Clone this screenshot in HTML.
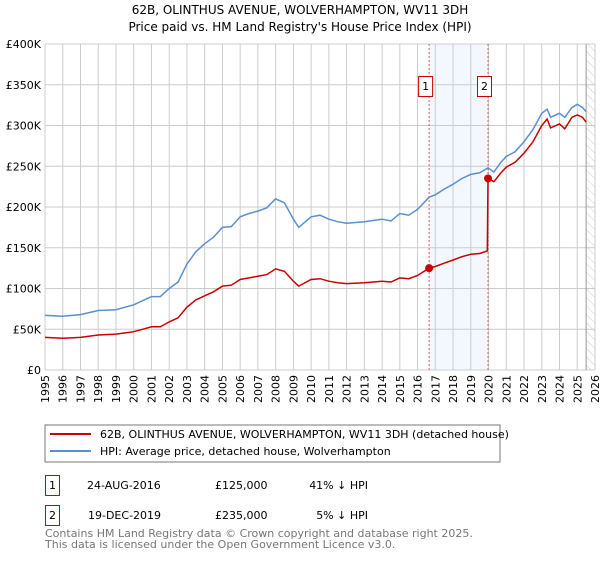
<!DOCTYPE html>
<html><head><meta charset="utf-8"><style>
body{margin:0;background:#fff;font-family:"DejaVu Sans","Liberation Sans",sans-serif;}
svg text{font-family:"DejaVu Sans","Liberation Sans",sans-serif;}
</style></head><body>
<svg id="c" width="600" height="560" xmlns="http://www.w3.org/2000/svg">
<defs><pattern id="hatch" width="6" height="6" patternUnits="userSpaceOnUse" patternTransform="rotate(-45)"><line x1="0" y1="0" x2="0" y2="6" stroke="#ccc" stroke-width="1"/></pattern></defs>
<text x="300" y="14" text-anchor="middle" font-size="12">62B, OLINTHUS AVENUE, WOLVERHAMPTON, WV11 3DH</text>
<text x="300" y="31" text-anchor="middle" font-size="12">Price paid vs. HM Land Registry's House Price Index (HPI)</text>
<g id="grid"></g><g id="marks"></g>
<g>
<rect x="45" y="425" width="455" height="37" fill="#fff" stroke="#777"/>
<line x1="50" y1="434" x2="91" y2="434" stroke="#cc0000" stroke-width="2"/>
<text x="100" y="438" font-size="11">62B, OLINTHUS AVENUE, WOLVERHAMPTON, WV11 3DH (detached house)</text>
<line x1="50" y1="451" x2="91" y2="451" stroke="#5b8fd0" stroke-width="2"/>
<text x="100" y="455" font-size="11">HPI: Average price, detached house, Wolverhampton</text>
</g>
<g font-size="11">
<rect x="45.5" y="475.5" width="14" height="20" fill="#fff" stroke="#cc0000"/>
<text x="52.5" y="489" text-anchor="middle">1</text>
<text x="87" y="489">24-AUG-2016</text>
<text x="215" y="489">£125,000</text>
<text x="368" y="489" text-anchor="end">41% ↓ HPI</text>
<rect x="45.5" y="505.5" width="14" height="20" fill="#fff" stroke="#cc0000"/>
<text x="52.5" y="519" text-anchor="middle">2</text>
<text x="88" y="519">19-DEC-2019</text>
<text x="215" y="519">£235,000</text>
<text x="368" y="519" text-anchor="end">5% ↓ HPI</text>
</g>
<text x="45" y="537" font-size="11" fill="#777">Contains HM Land Registry data © Crown copyright and database right 2025.</text>
<text x="45" y="548" font-size="11" fill="#777">This data is licensed under the Open Government Licence v3.0.</text>
</svg>
<script>
const years=[1995,1996,1997,1998,1999,2000,2001,2002,2003,2004,2005,2006,2007,2008,2009,2010,2011,2012,2013,2014,2015,2016,2017,2018,2019,2020,2021,2022,2023,2024,2025,2026];
const yTicks=[0,50000,100000,150000,200000,250000,300000,350000,400000];
const yTickLabels=["£0","£50K","£100K","£150K","£200K","£250K","£300K","£350K","£400K"];
const hpiT=[1995,1996,1997,1998,1999,2000,2000.5,2001,2001.5,2002,2002.5,2003,2003.5,2004,2004.5,2005,2005.5,2006,2006.5,2007,2007.5,2008,2008.5,2009,2009.3,2010,2010.5,2011,2011.5,2012,2013,2014,2014.5,2015,2015.5,2016,2016.65,2017,2017.5,2018,2018.5,2019,2019.5,2019.97,2020.3,2020.7,2021,2021.5,2022,2022.5,2023,2023.3,2023.5,2024,2024.3,2024.7,2025,2025.3,2025.5];
const hpiV=[67,66,68,73,74,80,85,90,90,100,108,130,145,155,163,175,176,188,192,195,199,210,205,185,175,188,190,185,182,180,182,185,183,192,190,197,212,215,222,228,235,240,242,248,243,255,262,268,280,295,315,320,310,315,310,322,326,322,317];
const redT=[1995,1996,1997,1998,1999,2000,2000.5,2001,2001.5,2002,2002.5,2003,2003.5,2004,2004.5,2005,2005.5,2006,2006.5,2007,2007.5,2008,2008.5,2009,2009.3,2010,2010.5,2011,2011.5,2012,2013,2014,2014.5,2015,2015.5,2016,2016.65,2017,2017.5,2018,2018.5,2019,2019.5,2019.93,2019.97,2020.3,2020.7,2021,2021.5,2022,2022.5,2023,2023.3,2023.5,2024,2024.3,2024.7,2025,2025.3,2025.5];
const redV=[40,39,40,43,44,47,50,53,53,59,64,77,86,91,96,103,104,111,113,115,117,124,121,109,103,111,112,109,107,106,107,109,108,113,112,116,125,127,131,135,139,142,143,146,235,231,242,249,255,266,280,300,308,297,302,296,310,313,310,304];
const saleT=[2016.65,2019.97];
const saleV=[125,235];
const saleLabels=["1","2"];
const L=45,R=595,T=44,B=370,X0=1995,X1=2026,YMAX=400000;
const xs=t=>L+(t-X0)/(X1-X0)*(R-L);
const ys=v=>B-v/YMAX*(B-T);
const NS="http://www.w3.org/2000/svg";
function mk(tag,attrs,parent){const e=document.createElementNS(NS,tag);for(const k in attrs)e.setAttribute(k,attrs[k]);parent.appendChild(e);return e;}
const g=document.getElementById('grid'),m=document.getElementById('marks');
mk('rect',{x:L,y:T,width:R-L,height:B-T,fill:'#fff'},g);
let band=mk('rect',{x:xs(saleT[0]),y:T,width:xs(saleT[1])-xs(saleT[0]),height:B-T,fill:'#eef3fd',opacity:0.7},g);


let hat=mk('rect',{x:xs(2025.5),y:T,width:R-xs(2025.5),height:B-T,fill:'url(#hatch)'},g);


years.forEach(y=>{const x=xs(y);
 let l=mk('line',{x1:x,y1:T,x2:x,y2:B,stroke:'#ccc'},g);
 
 
 let t=mk('text',{x:0,y:0,'font-size':11,'text-anchor':'end',transform:`translate(${x+4},${B+5}) rotate(-90)`},g);
 t.textContent=y;
 
 });
yTicks.forEach((v,i)=>{const y=ys(v);
 let l=mk('line',{x1:L,y1:y,x2:R,y2:y,stroke:'#ccc'},g);
 
 
 let t=mk('text',{x:L-4,y:y+4,'font-size':11,'text-anchor':'end'},g);
 t.textContent=yTickLabels[i];
 
 });
let el=mk('line',{x1:xs(2025.5),y1:T,x2:xs(2025.5),y2:B,stroke:'#999'},g);


saleT.forEach((t,i)=>{
 let l=mk('line',{x1:xs(t),y1:T,x2:xs(t),y2:B,stroke:'#e06060','stroke-dasharray':'2,2'},m);
 
 });
function path(T_,V_,color,name){let d=T_.map((t,i)=>(i?'L':'M')+xs(t).toFixed(1)+','+ys(V_[i]*1000).toFixed(1)).join('');
 let p=mk('path',{d:d,fill:'none',stroke:color,'stroke-width':1.5},m);
 
 }
path(hpiT,hpiV,'#5b8fd0','hpi-line');
path(redT,redV,'#cc0000','property-price-line');
saleT.forEach((t,i)=>{
 let c=mk('circle',{cx:xs(t),cy:ys(saleV[i]*1000),r:4,fill:'#cc0000'},m);
 
 
 let bx=xs(t)-7-4;
 let r=mk('rect',{x:bx+0.5,y:76.5,width:14,height:20,fill:'#fff',stroke:'#cc0000'},m);
 
 
 let tx=mk('text',{x:bx+7.5,y:90,'font-size':11,'text-anchor':'middle'},m);
 tx.textContent=saleLabels[i];
 
 });
</script>
</body></html>
